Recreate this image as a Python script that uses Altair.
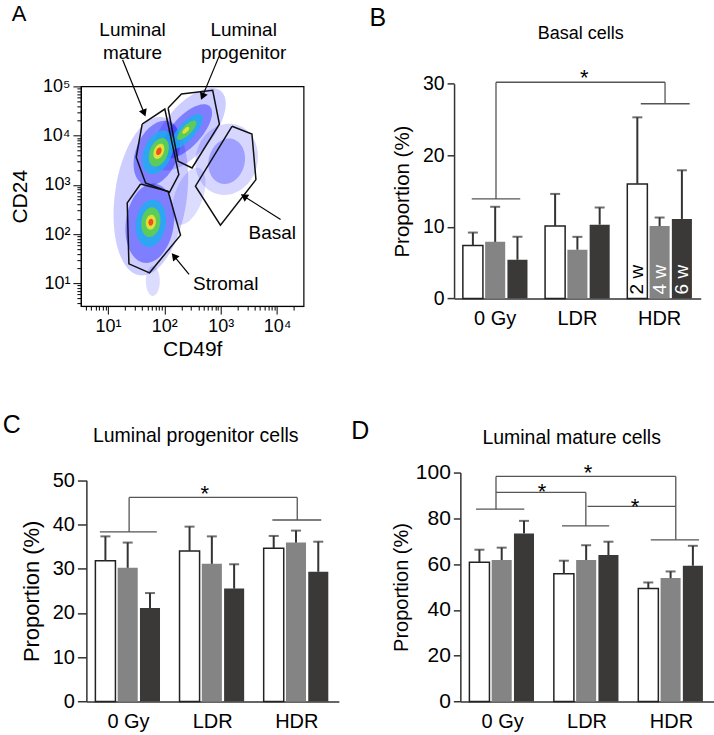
import math
import altair as alt
import pandas as pd

FONT = "Liberation Sans"
INK = "#333333"

# ======================= Panel A : flow cytometry (log10 units) =======================
a_x_domain = [0.52, 4.47]
a_y_domain = [0.5375, 5.0]

gate_name = ["LM"] * 6 + ["LP"] * 6 + ["Basal"] * 5 + ["Stromal"] * 6
gate_x = [1.607, 2.009, 2.257, 2.092, 1.667, 1.501,
          2.067, 2.304, 2.858, 2.977, 2.492, 2.244,
          3.200, 3.554, 3.625, 2.995, 2.552,
          1.579, 2.067, 2.287, 1.738, 1.372, 1.342]
gate_y = [4.235, 4.540, 3.209, 2.850, 3.039, 3.560,
          4.560, 4.844, 4.919, 4.235, 3.343, 3.479,
          4.189, 4.032, 3.107, 2.180, 2.972,
          3.018, 2.870, 1.978, 1.213, 1.396, 2.633]

# density clouds (centre in log10 units, extent in px, tilt, colour level)
blob_x = [1.761, 2.434, 3.106, 2.434, 1.796,
          1.867, 2.398, 1.743, 3.106,
          1.885, 2.398, 1.761,
          1.903, 2.398, 1.761,
          1.903, 1.761, 2.381,
          1.903, 1.761]
blob_y = [2.769, 4.128, 3.519, 2.769, 1.045,
          3.641, 4.087, 2.221, 3.479,
          3.661, 4.087, 2.221,
          3.661, 4.108, 2.241,
          3.682, 2.241, 4.108,
          3.682, 2.241]
blob_w = [72, 48, 62, 28, 14,
          42, 30, 48, 36,
          28, 17, 30,
          18, 9, 19,
          10, 10, 4,
          5, 5]
blob_h = [160, 100, 72, 60, 30,
          68, 68, 80, 46,
          46, 44, 48,
          30, 26, 30,
          16, 15, 9,
          8, 7]
blob_angle = [8, 40, 15, 20, 0,
              22, 42, 8, 15,
              22, 42, 8,
              22, 45, 8,
              22, 8, 45,
              22, 8]
blob_color = ["#3030ff"] * 5 + ["#2020ff"] * 4 + ["#1ab0f0"] * 3 + ["#60d048"] * 3 + ["#e6e03a"] * 3 + ["#f04818"] * 2
blob_opacity = [0.24, 0.24, 0.2, 0.17, 0.17,
                0.45, 0.45, 0.45, 0.3,
                0.8, 0.8, 0.8,
                0.9, 0.9, 0.9,
                0.95, 0.95, 0.95,
                0.95, 0.95]

arrow_x1 = [1.26, 2.97, 4.062, 2.439]
arrow_y1 = [5.54, 5.61, 2.296, 1.180]
arrow_x2 = [1.642, 2.676, 3.412, 2.173]
arrow_y2 = [4.458, 4.797, 2.769, 1.552]
arrow_angle = [158, 202.5, 302.4, 320.6]

a_label_text = ["Luminal\nmature", "Luminal\nprogenitor", "Basal", "Stromal"]
a_label_x = [1.437, 3.407, 3.915, 3.088]
a_label_y = [6.15, 6.15, 2.024, 0.978]

# ======================= Bar panels =======================
groups = ["0 Gy", "LDR", "HDR"]
weeks = ["2 w", "4 w", "6 w"]
week_colors = ["#ffffff", "#848484", "#3b3838"]

basal_mean = [7.4, 7.9, 5.4, 10.1, 6.8, 10.3, 16.0, 10.1, 11.1]
basal_upper = [9.2, 12.8, 8.6, 14.6, 8.6, 12.7, 25.3, 11.3, 17.9]
lp_mean = [31.8, 30.2, 21.1, 34.0, 31.1, 25.5, 34.6, 35.9, 29.3]
lp_upper = [37.3, 35.9, 24.5, 39.5, 37.3, 31.0, 37.4, 38.6, 36.1]
lm_mean = [60.8, 61.8, 73.4, 55.8, 61.8, 64.0, 49.4, 53.9, 59.3]
lm_upper = [66.3, 67.2, 78.9, 61.5, 68.3, 69.8, 52.0, 56.8, 68.0]

# significance brackets (x in group units 0..3, y in %)
basal_seg_x1 = [0.215, 0.510, 0.510, 2.566, 2.271]
basal_seg_x2 = [0.805, 0.510, 2.566, 2.566, 2.866]
basal_seg_y1 = [13.9, 13.9, 30.2, 30.2, 27.2]
basal_seg_y2 = [13.9, 30.2, 30.2, 27.2, 27.2]
basal_star_x = [1.583]
basal_star_y = [29.8]

lp_seg_x1 = [0.160, 0.508, 0.508, 2.506, 2.210]
lp_seg_x2 = [0.837, 0.508, 2.506, 2.506, 2.791]
lp_seg_y1 = [38.3, 38.3, 46.1, 46.1, 41.0]
lp_seg_y2 = [38.3, 46.1, 46.1, 41.0, 41.0]
lp_star_x = [1.406]
lp_star_y = [45.4]

lm_seg_x1 = [0.186, 0.422, 0.422, 2.551, 2.255, 0.422, 1.486, 1.203, 1.506]
lm_seg_x2 = [0.757, 0.422, 2.551, 2.551, 2.826, 1.486, 1.486, 1.762, 2.551]
lm_seg_y1 = [84.0, 84.0, 98.3, 98.3, 70.6, 91.3, 91.3, 76.7, 85.2]
lm_seg_y2 = [84.0, 98.3, 98.3, 70.6, 70.6, 91.3, 76.7, 76.7, 85.2]
lm_star_x = [1.513, 0.966, 2.069]
lm_star_y = [96.6, 88.3, 81.8]


# ----------------------- build panel A -----------------------
def tick_values(lo, hi):
    vals = []
    for n in range(0, 6):
        for k in range(1, 10):
            v = n + math.log10(k)
            if lo - 1e-9 <= v <= hi + 1e-9:
                vals.append(v)
    return vals


SUP = "['\u2070','\u00b9','\u00b2','\u00b3','\u2074','\u2075']"


def exp_axis(title, values, labelpad, titlepad):
    return alt.Axis(
        title=title, values=values, grid=False,
        labelExpr="datum.value == round(datum.value) ? '10' + " + SUP + "[datum.value] : ''",
        tickSize={"condition": {"test": "datum.value == round(datum.value)", "value": 8}, "value": 4},
        labelFontSize=18, titleFontSize=21, labelPadding=labelpad, titlePadding=titlepad,
        domainColor="black", tickColor="black", labelOverlap=False, labelFlush=False,
        labelBound=False,
    )


xsA = alt.Scale(domain=a_x_domain, nice=False, zero=False)
ysA = alt.Scale(domain=a_y_domain, nice=False, zero=False)
axA_x = exp_axis("CD49f", tick_values(*a_x_domain), 3, 3)
axA_y = exp_axis("CD24", tick_values(*a_y_domain), 3, 12)


def ax_(field):
    return alt.X(field, scale=xsA, axis=axA_x)


def ay_(field):
    return alt.Y(field, scale=ysA, axis=axA_y)


blob_df = pd.DataFrame({
    "x": blob_x, "y": blob_y, "angle": blob_angle, "color": blob_color, "opacity": blob_opacity,
    "size": [h * h for h in blob_h],
    "path": ["M 0 -1 A %.3f 1 0 1 1 0 1 A %.3f 1 0 1 1 0 -1 Z" % (w / h, w / h) for w, h in zip(blob_w, blob_h)],
    "idx": list(range(len(blob_x))),
})
blobs = alt.Chart(blob_df).mark_point(filled=True, strokeWidth=0).encode(
    x=ax_("x:Q"),
    y=ay_("y:Q"),
    shape=alt.Shape("path:N", scale=None),
    size=alt.Size("size:Q", scale=None),
    angle=alt.Angle("angle:Q", scale=None),
    color=alt.Color("color:N", scale=None),
    opacity=alt.Opacity("opacity:Q", scale=None),
    order=alt.Order("idx:Q"),
)

gate_rows = []
for name in ["LM", "LP", "Basal", "Stromal"]:
    pts = [(gate_x[i], gate_y[i]) for i, n in enumerate(gate_name) if n == name]
    pts.append(pts[0])
    for k, (gx, gy) in enumerate(pts):
        gate_rows.append({"gate": name, "k": k, "x": gx, "y": gy})
gates = alt.Chart(pd.DataFrame(gate_rows)).mark_line(color="#111111", strokeWidth=1.5).encode(
    x=ax_("x:Q"),
    y=ay_("y:Q"),
    detail="gate:N",
    order="k:Q",
)

arrow_df = pd.DataFrame({"x": arrow_x1, "y": arrow_y1, "x2": arrow_x2, "y2": arrow_y2, "angle": arrow_angle})
arrow_lines = alt.Chart(arrow_df).mark_rule(color="black", strokeWidth=1.2).encode(
    x=ax_("x:Q"), x2="x2:Q",
    y=ay_("y:Q"), y2="y2:Q",
)
head_df = pd.DataFrame({"x": arrow_x2, "y": arrow_y2, "angle": arrow_angle})
arrow_heads = alt.Chart(head_df).mark_point(shape="triangle-up", filled=True, size=70, color="black", opacity=1).encode(
    x=ax_("x:Q"),
    y=ay_("y:Q"),
    angle=alt.Angle("angle:Q", scale=None),
)
a_labels = alt.Chart(pd.DataFrame({"x": a_label_x, "y": a_label_y, "t": a_label_text})).mark_text(
    fontSize=19, lineBreak="\n", lineHeight=23, align="center", baseline="middle", color="black"
).encode(
    x=ax_("x:Q"),
    y=ay_("y:Q"),
    text="t:N",
)
a_letter = alt.Chart(pd.DataFrame({"x": [-0.575], "y": [6.47], "t": ["A"]})).mark_text(
    fontSize=22, align="center", baseline="middle", color="black"
).encode(
    x=ax_("x:Q"),
    y=ay_("y:Q"),
    text="t:N",
)

panel_a = alt.layer(blobs, gates, arrow_lines, arrow_heads, a_labels, a_letter).properties(
    width=223, height=220, view=alt.ViewBackground(stroke="black", strokeWidth=1.2)
)


# ----------------------- bar panels -----------------------
def bar_panel(mean, upper, ymax, ystep, width, height, xr0, yr, xoff_axis, yoff_axis, tick_len,
              ytitle_size, ytitle_pad, ylabel_size, xlabel_size,
              seg_x1, seg_x2, seg_y1, seg_y2, star_x, star_y,
              title, title_x, title_y, title_size, letter, letter_x, letter_y, week_labels):
    df = pd.DataFrame({
        "group": [g for g in groups for _ in weeks],
        "week": weeks * 3,
        "mean": mean,
        "upper": upper,
    })
    df["base"] = 0.0
    xs = alt.Scale(domain=groups, range=[xr0, width], paddingInner=0.214, paddingOuter=0.107)
    x_axis = alt.Axis(title=None, labelAngle=0, ticks=False, tickSize=0, labelPadding=10,
                      labelFontSize=xlabel_size, domainWidth=1.5, offset=xoff_axis)
    xenc = alt.X("group:N", sort=groups, scale=xs, axis=x_axis)
    xoff = alt.XOffset("week:N", sort=weeks, scale=alt.Scale(domain=weeks, paddingInner=0.1, paddingOuter=0))
    ys = alt.Scale(domain=[0, ymax], range=yr, nice=False)
    y_axis = alt.Axis(title="Proportion (%)", values=list(range(0, ymax + 1, ystep)), grid=False,
                      tickSize=tick_len, tickWidth=1.5, domainWidth=1.5, labelFontSize=ylabel_size,
                      labelPadding=3, titleFontSize=ytitle_size, titlePadding=ytitle_pad, offset=yoff_axis)

    def yy(field):
        return alt.Y(field, scale=ys, axis=y_axis)

    bars = alt.Chart(df).mark_bar(stroke="#222222").encode(
        x=xenc, xOffset=xoff,
        y=yy("mean:Q"),
        color=alt.Color("week:N", scale=alt.Scale(domain=weeks, range=week_colors), legend=None),
        strokeWidth=alt.condition(alt.datum.week == weeks[0], alt.value(1.5), alt.value(0)),
    )
    err = alt.Chart(df).mark_rule(color=INK, strokeWidth=2).encode(
        x=xenc, xOffset=xoff,
        y=yy("mean:Q"), y2="upper:Q",
    )
    cap = alt.Chart(df).mark_tick(color=INK, thickness=2, size=10, orient="horizontal").encode(
        x=xenc, xOffset=xoff,
        y=yy("upper:Q"),
    )
    layers = [bars, err, cap]
    if week_labels:
        wl = df[df["group"] == groups[2]]
        txt = alt.Chart(wl).mark_text(angle=270, align="left", baseline="middle", fontSize=19, dx=4).encode(
            x=xenc, xOffset=xoff,
            y=yy("base:Q"),
            text="week:N",
            color=alt.condition(alt.datum.week == weeks[0], alt.value("black"), alt.value("white")),
        )
        layers.append(txt)
    bar_layer = alt.layer(*layers)

    bx = alt.Scale(domain=[0, 3], range=[xr0, width], nice=False, zero=False)
    segs = alt.Chart(pd.DataFrame({"x1": seg_x1, "x2": seg_x2, "y1": seg_y1, "y2": seg_y2})).mark_rule(
        color="#555555", strokeWidth=1.3
    ).encode(
        x=alt.X("x1:Q", scale=bx, axis=None), x2="x2:Q",
        y=yy("y1:Q"), y2="y2:Q",
    )
    stars = alt.Chart(pd.DataFrame({"x": star_x, "y": star_y, "t": ["*"] * len(star_x)})).mark_text(
        fontSize=22, align="center", baseline="alphabetic", color="black"
    ).encode(
        x=alt.X("x:Q", scale=bx, axis=None),
        y=yy("y:Q"),
        text="t:N",
    )
    ttl = alt.Chart(pd.DataFrame({"x": [title_x], "y": [title_y], "t": [title]})).mark_text(
        fontSize=title_size, align="center", baseline="middle", color="black"
    ).encode(
        x=alt.X("x:Q", scale=bx, axis=None),
        y=yy("y:Q"),
        text="t:N",
    )
    let = alt.Chart(pd.DataFrame({"x": [letter_x], "y": [letter_y], "t": [letter]})).mark_text(
        fontSize=25, align="center", baseline="middle", color="black"
    ).encode(
        x=alt.X("x:Q", scale=bx, axis=None),
        y=yy("y:Q"),
        text="t:N",
    )
    annot = alt.layer(segs, stars, ttl, let)
    return alt.layer(bar_layer, annot).resolve_scale(x="independent").properties(width=width, height=height)


panel_b = bar_panel(basal_mean, basal_upper, 30, 10, 247, 220, 0, [212.3, -2.7], -7.7, 0, 7,
                    20.5, 10, 19.5, 20,
                    basal_seg_x1, basal_seg_x2, basal_seg_y1, basal_seg_y2, basal_star_x, basal_star_y,
                    "Basal cells", 1.54, 36.9, 18, "B", -0.927, 39.15, True)
panel_c = bar_panel(lp_mean, lp_upper, 50, 10, 258.3, 229.3, 5.5, [229.3, 7.6], 0, -5.5, 9,
                    22, 9, 20, 20,
                    lp_seg_x1, lp_seg_x2, lp_seg_y1, lp_seg_y2, lp_star_x, lp_star_y,
                    "Luminal progenitor cells", 1.30, 60.0, 19.5, "C", -0.886, 62.5, False)
panel_d = bar_panel(lm_mean, lm_upper, 100, 20, 260, 229.3, 6.3, [229.3, 0], 0, -6.3, 7,
                    20, 4, 21, 20,
                    lm_seg_x1, lm_seg_x2, lm_seg_y1, lm_seg_y2, lm_star_x, lm_star_y,
                    "Luminal mature cells", 1.318, 115.3, 19.5, "D", -1.186, 118.2, False)

chart = alt.concat(
    panel_a, panel_b, panel_c, panel_d,
    columns=2,
    spacing=alt.RowColnumber(row=166.7, column=114.7),
    bounds="flush",
).properties(
    padding={"left": 2, "top": 1, "right": 0, "bottom": 0},
    background="white",
).configure(
    font=FONT,
).configure_view(
    stroke=None,
).configure_axis(
    labelFont=FONT, titleFont=FONT, labelColor="black", titleColor="black",
    titleFontWeight="normal", domainColor=INK, tickColor=INK,
)

chart.save("out.html", embed_options={"renderer": "svg", "actions": False})
